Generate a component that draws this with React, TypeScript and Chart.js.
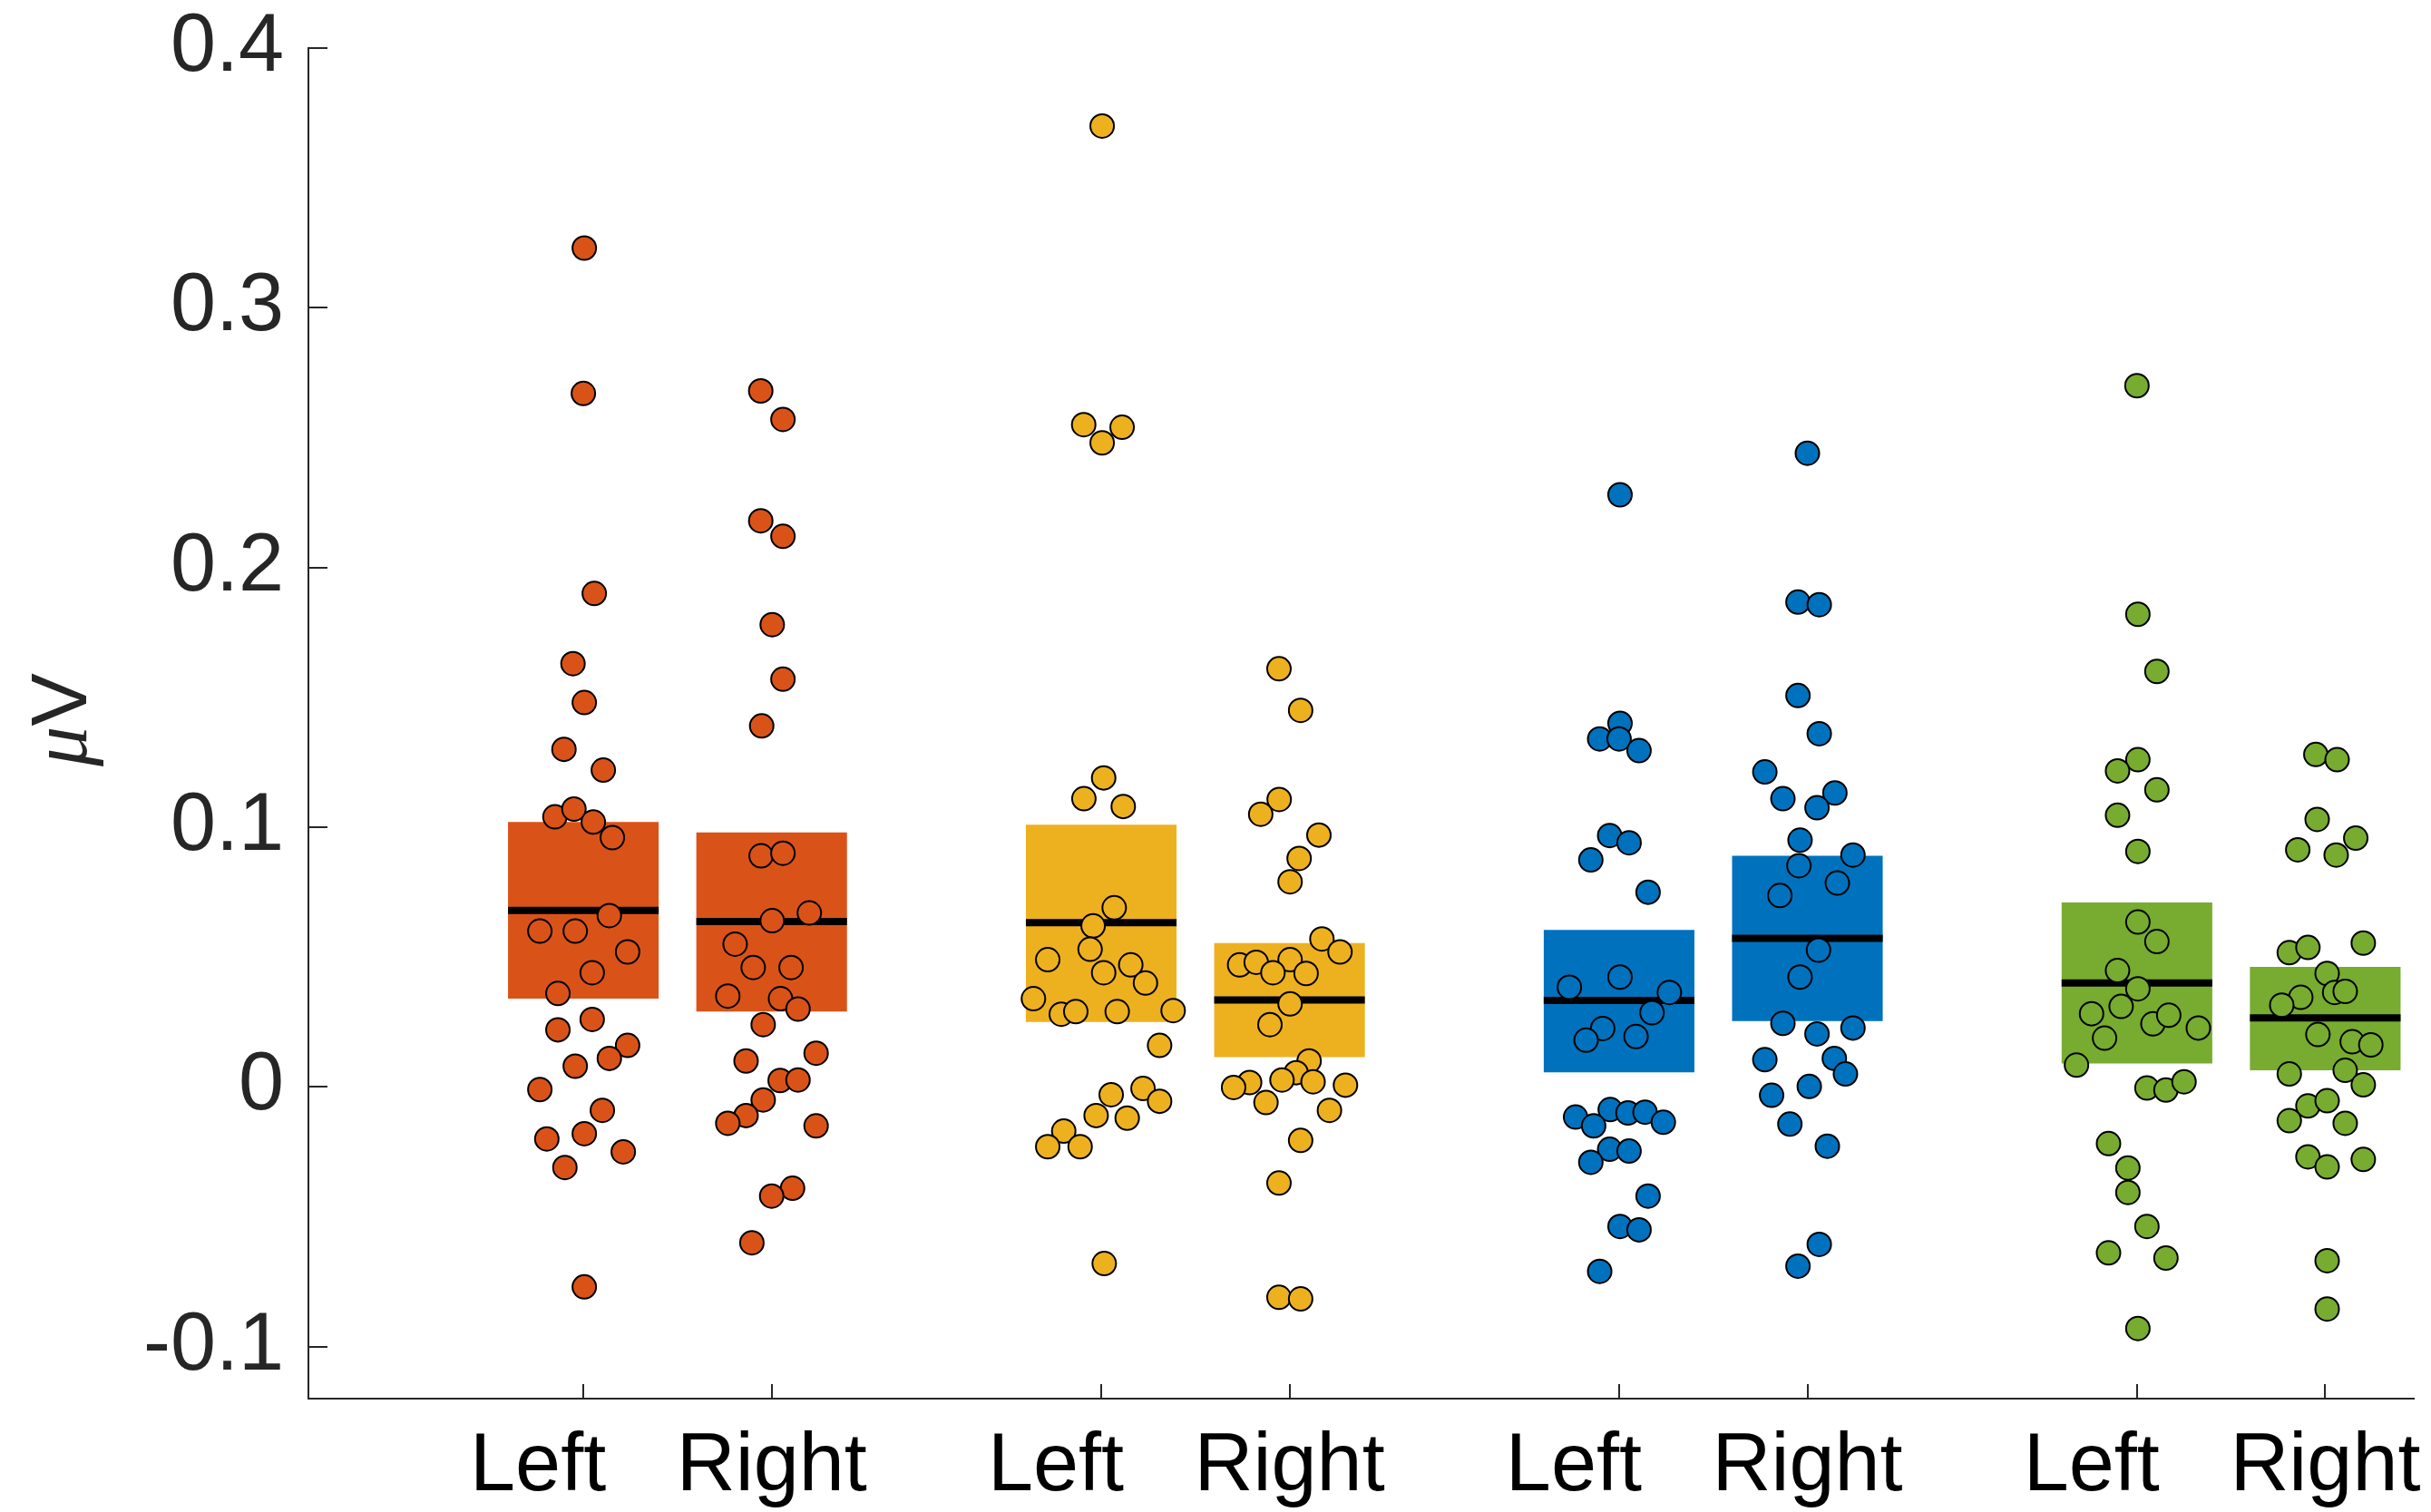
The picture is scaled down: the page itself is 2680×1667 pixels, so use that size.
import React, { useEffect, useRef } from 'react';
import { Chart, registerables } from 'chart.js';

Chart.register(...registerables);

// ---------- data ----------
const categories = ['Left    ', 'Right', 'Left    ', 'Right', 'Left    ', 'Right', 'Left    ', 'Right'];
const positions = [1, 2, 3.75, 4.75, 6.5, 7.5, 9.25, 10.25];
const colors = ['#D95319', '#D95319', '#EDB120', '#EDB120', '#0072BD', '#0072BD', '#77AC30', '#77AC30'];

const boxLow = [0.034, 0.029, 0.025, 0.0115, 0.0056, 0.0254, 0.009, 0.0064];
const boxMedian = [0.068, 0.0637, 0.0633, 0.0335, 0.0333, 0.0572, 0.040, 0.0266];
const boxHigh = [0.102, 0.098, 0.101, 0.0554, 0.0605, 0.089, 0.071, 0.0462];

const left1Values = [0.323, 0.267, 0.190, 0.163, 0.148, 0.130, 0.122, 0.104, 0.107, 0.102, 0.096, 0.066, 0.060, 0.060, 0.052, 0.044, 0.036, 0.026, 0.022, 0.016, 0.011, 0.008, -0.001, -0.009, -0.018, -0.020, -0.025, -0.031, -0.077];
const left1Jitter = [0.005, 0.0, 0.058, -0.055, 0.005, -0.103, 0.106, -0.151, -0.05, 0.053, 0.154, 0.138, -0.231, -0.043, 0.235, 0.047, -0.135, 0.047, -0.135, 0.235, 0.138, -0.043, -0.231, 0.101, 0.005, -0.194, 0.212, -0.098, 0.005];

const right1Values = [0.268, 0.257, 0.218, 0.212, 0.178, 0.157, 0.139, 0.089, 0.090, 0.067, 0.064, 0.055, 0.046, 0.046, 0.035, 0.034, 0.030, 0.024, 0.013, 0.010, 0.0025, 0.0027, -0.005, -0.011, -0.014, -0.015, -0.039, -0.042, -0.060];
const right1Jitter = [-0.058, 0.06, -0.058, 0.06, 0.003, 0.06, -0.053, -0.056, 0.06, 0.2, 0.003, -0.194, -0.098, 0.103, -0.233, 0.047, 0.14, -0.045, 0.236, -0.136, 0.045, 0.14, -0.045, -0.136, -0.233, 0.236, 0.111, 0.0, -0.105];

const left2Values = [0.370, 0.255, 0.248, 0.254, 0.119, 0.111, 0.108, 0.069, 0.062, 0.053, 0.049, 0.044, 0.047, 0.040, 0.034, 0.028, 0.029, 0.029, 0.0294, 0.016, -0.0006, -0.003, -0.0055, -0.011, -0.012, -0.017, -0.023, -0.023, -0.068];
const left2Jitter = [0.005, -0.093, 0.005, 0.111, 0.013, -0.092, 0.117, 0.069, -0.043, -0.059, -0.284, 0.013, 0.157, 0.235, -0.36, -0.212, -0.135, 0.085, 0.382, 0.31, 0.222, 0.053, 0.31, -0.027, 0.138, -0.199, -0.112, -0.284, 0.016];

const right2Values = [0.161, 0.145, 0.1107, 0.105, 0.097, 0.088, 0.079, 0.057, 0.052, 0.047, 0.048, 0.049, 0.044, 0.0437, 0.032, 0.024, 0.010, 0.0055, 0.002, 0.0027, 0.0017, -0.0002, 0.0007, -0.006, -0.009, -0.0206, -0.037, -0.081, -0.0816];
const right2Jitter = [-0.056, 0.059, -0.055, -0.153, 0.156, 0.051, 0.003, 0.172, 0.268, -0.265, -0.177, 0.003, -0.088, 0.088, 0.003, -0.104, 0.104, 0.035, 0.125, -0.04, -0.212, -0.297, 0.297, -0.125, 0.212, 0.059, -0.056, -0.056, 0.059];

const left3Values = [0.228, 0.140, 0.134, 0.134, 0.1295, 0.0968, 0.094, 0.0874, 0.075, 0.0423, 0.0384, 0.0364, 0.0286, 0.0225, 0.018, 0.0194, -0.0116, -0.0087, -0.010, -0.0097, -0.015, -0.0136, -0.024, -0.0247, -0.029, -0.042, -0.0537, -0.055, -0.071];
const left3Jitter = [0.005, 0.005, -0.103, 0.0, 0.106, -0.05, 0.053, -0.15, 0.154, 0.005, -0.264, 0.267, 0.175, -0.087, -0.175, 0.09, -0.231, -0.047, 0.047, 0.138, -0.135, 0.235, -0.05, 0.053, -0.15, 0.154, 0.005, 0.106, -0.103];

const right3Values = [0.244, 0.1867, 0.1857, 0.1507, 0.136, 0.1213, 0.111, 0.1132, 0.1075, 0.095, 0.0893, 0.0852, 0.0785, 0.0737, 0.0527, 0.0423, 0.0245, 0.0227, 0.0204, 0.0105, 0.011, 0.005, 0.0002, -0.0032, -0.0143, -0.0228, -0.0606, -0.069];
const right3Jitter = [0.0, -0.05, 0.063, -0.05, 0.063, -0.226, -0.13, 0.146, 0.051, -0.039, 0.242, -0.045, 0.159, -0.146, 0.059, -0.039, -0.13, 0.242, 0.051, -0.226, 0.143, 0.202, 0.01, -0.19, -0.093, 0.106, 0.063, -0.05];

const left4Values = [0.270, 0.182, 0.160, 0.126, 0.1217, 0.1144, 0.1046, 0.0907, 0.0635, 0.056, 0.0448, 0.0378, 0.031, 0.0282, 0.0243, 0.0276, 0.0188, 0.0227, 0.0084, -0.0004, -0.0012, 0.002, -0.0218, -0.0312, -0.0406, -0.0537, -0.0639, -0.0659, -0.093];
const left4Jitter = [0.0, 0.005, 0.106, 0.005, -0.103, 0.106, -0.103, 0.005, 0.005, 0.106, -0.103, 0.005, -0.084, -0.241, 0.085, 0.169, -0.172, 0.326, -0.321, 0.053, 0.154, 0.25, -0.151, -0.048, -0.048, 0.053, -0.151, 0.154, 0.005];

const right4Values = [0.128, 0.126, 0.103, 0.0958, 0.0913, 0.0893, 0.0554, 0.0517, 0.0537, 0.0437, 0.0364, 0.0368, 0.0345, 0.0315, 0.0202, 0.0174, 0.0162, 0.005, 0.0064, 0.0008, -0.0073, -0.0053, -0.013, -0.014, -0.0269, -0.0308, -0.0279, -0.0669, -0.0855];
const right4Jitter = [-0.05, 0.063, -0.043, 0.162, -0.146, 0.058, 0.202, -0.191, -0.092, 0.01, 0.05, 0.106, -0.13, -0.231, -0.039, 0.143, 0.242, -0.191, 0.106, 0.202, -0.092, 0.01, -0.191, 0.106, -0.092, 0.01, 0.202, 0.01, 0.01];

const groupValues = [left1Values, right1Values, left2Values, right2Values, left3Values, right3Values, left4Values, right4Values];
const groupJitter = [left1Jitter, right1Jitter, left2Jitter, right2Jitter, left3Jitter, right3Jitter, left4Jitter, right4Jitter];

const yTickValues = [-0.1, 0, 0.1, 0.2, 0.3, 0.4];
const yTickLabels = ['-0.1', '0', '0.1', '0.2', '0.3', '0.4'];
const yAxisTitleMu = 'μ';
const yAxisTitleUnit = 'V';

// ---------- styles ----------
const FONT = '"Liberation Sans", Arial, Helvetica, sans-serif';
const AXIS_COLOR = '#262626';
const BOX_HALF = 0.4;

const decorations = {
  id: 'decorations',
  afterDraw(chart: any) {
    const ctx = chart.ctx as CanvasRenderingContext2D;
    const xs = chart.scales.x;
    const ys = chart.scales.y;
    const area = chart.chartArea;
    ctx.save();
    ctx.strokeStyle = AXIS_COLOR;
    ctx.lineWidth = 2;
    ctx.beginPath();
    yTickValues.forEach((v) => {
      const py = Math.round(ys.getPixelForValue(v));
      ctx.moveTo(area.left, py);
      ctx.lineTo(area.left + 21, py);
    });
    positions.forEach((p) => {
      const px = Math.round(xs.getPixelForValue(p));
      ctx.moveTo(px, area.bottom);
      ctx.lineTo(px, area.bottom - 16);
    });
    ctx.stroke();

    // y axis title: italic mu + upright V, rotated
    ctx.translate(95, (area.top + area.bottom) / 2 - 4);
    ctx.rotate(-Math.PI / 2);
    ctx.fillStyle = AXIS_COLOR;
    ctx.textBaseline = 'alphabetic';
    ctx.textAlign = 'left';
    const muFont = 'italic 88px "Liberation Serif", serif';
    const vFont = '88px ' + FONT;
    ctx.font = muFont;
    const w1 = ctx.measureText(yAxisTitleMu).width;
    ctx.font = vFont;
    const w2 = ctx.measureText(yAxisTitleUnit).width;
    const start = -(w1 + w2) / 2;
    ctx.font = muFont;
    ctx.fillText(yAxisTitleMu, start, 0);
    ctx.font = vFont;
    ctx.fillText(yAxisTitleUnit, start + w1, 0);
    ctx.restore();
  },
};

export default function App() {
  const canvasRef = useRef<HTMLCanvasElement>(null);

  useEffect(() => {
    const canvas = canvasRef.current;
    if (!canvas) return;

    const boxData = positions.map((p, i) => ({ x: p, y: [boxLow[i], boxHigh[i]] }));
    const medianData: any[] = [];
    positions.forEach((p, i) => {
      medianData.push({ x: p - BOX_HALF, y: boxMedian[i] });
      medianData.push({ x: p + BOX_HALF, y: boxMedian[i] });
      medianData.push({ x: p + BOX_HALF + 0.05, y: null });
    });

    const scatterSets = positions.map((p, i) => ({
      type: 'scatter' as const,
      label: categories[i].trim() + ' ' + i,
      data: groupValues[i].map((v, k) => ({ x: p + groupJitter[i][k], y: v })),
      pointRadius: 13,
      pointHoverRadius: 13,
      pointBackgroundColor: colors[i],
      pointBorderColor: '#000000',
      pointBorderWidth: 2,
      showLine: false,
      order: 0,
    }));

    const chart = new Chart(canvas, {
      type: 'scatter',
      data: {
        datasets: [
          ...scatterSets,
          {
            type: 'line' as const,
            label: 'median',
            data: medianData,
            borderColor: '#000000',
            borderWidth: 8,
            borderCapStyle: 'butt',
            pointRadius: 0,
            spanGaps: false,
            fill: false,
            order: 1,
          } as any,
          {
            type: 'bar' as const,
            label: 'box',
            data: boxData as any,
            backgroundColor: colors,
            borderWidth: 0,
            categoryPercentage: 1,
            barPercentage: 0.8,
            order: 2,
          } as any,
        ],
      },
      options: {
        animation: false,
        responsive: false,
        devicePixelRatio: 1,
        events: [],
        layout: { padding: { top: 53, right: 19, left: 0, bottom: 0 } },
        plugins: {
          legend: { display: false },
          tooltip: { enabled: false },
          title: { display: false },
        },
        scales: {
          x: {
            type: 'linear',
            min: -0.46,
            max: 10.72,
            offset: false,
            afterBuildTicks: (s: any) => {
              s.ticks = positions.map((v) => ({ value: v }));
            },
            afterFit: (s: any) => {
              s.height = 125;
              s.paddingLeft = 0;
              s.paddingRight = 0;
            },
            grid: { display: false, drawTicks: false },
            border: { display: true, color: AXIS_COLOR, width: 2 },
            ticks: {
              autoSkip: false,
              maxRotation: 0,
              minRotation: 0,
              padding: 22,
              color: '#000000',
              font: { family: FONT, size: 90 },
              callback: (_v: any, i: number) => categories[i],
            },
          },
          y: {
            type: 'linear',
            min: -0.12,
            max: 0.4,
            afterBuildTicks: (s: any) => {
              s.ticks = yTickValues.map((v) => ({ value: v }));
            },
            afterFit: (s: any) => {
              s.width = 340;
              s.paddingTop = 0;
              s.paddingBottom = 0;
            },
            grid: { display: false, drawTicks: false },
            border: { display: true, color: AXIS_COLOR, width: 2 },
            ticks: {
              padding: 27,
              color: AXIS_COLOR,
              font: { family: FONT, size: 90 },
              callback: (_v: any, i: number) => yTickLabels[i],
            },
          },
        },
      } as any,
      plugins: [decorations],
    });

    return () => chart.destroy();
  }, []);

  return (
    <div style={{ position: 'fixed', left: 0, top: 0, width: 2680, height: 1667, background: '#ffffff' }}>
      <canvas ref={canvasRef} width={2680} height={1667} style={{ display: 'block', width: 2680, height: 1667 }} />
    </div>
  );
}
